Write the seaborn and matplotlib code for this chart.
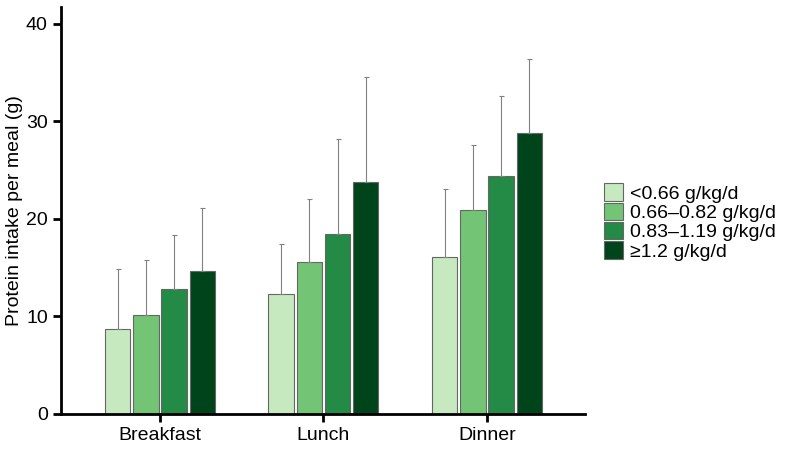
import matplotlib
matplotlib.use("Agg")
import matplotlib.pyplot as plt
import numpy as np
import pandas as pd
import seaborn as sns

meals = ["Breakfast", "Lunch", "Dinner"]
groups = ["<0.66 g/kg/d", "0.66–0.82 g/kg/d", "0.83–1.19 g/kg/d", "≥1.2 g/kg/d"]
# mean protein intake per meal (g), rows = meals, cols = groups
means = [
    [8.7, 10.1, 12.8, 14.6],
    [12.3, 15.6, 18.4, 23.8],
    [16.1, 20.9, 24.4, 28.8],
]
# upper end of error bars (mean + SD)
upper = [
    [14.9, 15.8, 18.3, 21.1],
    [17.4, 22.0, 28.2, 34.5],
    [23.1, 27.6, 32.6, 36.4],
]
colors = ["#c7e9c0", "#74c476", "#238b45", "#00441b"]

sns.set_style("ticks")
plt.rcParams["font.family"] = ["Liberation Sans", "DejaVu Sans"]
plt.rcParams["text.color"] = "black"
plt.rcParams["axes.labelcolor"] = "black"
plt.rcParams["xtick.color"] = "black"
plt.rcParams["ytick.color"] = "black"
plt.rcParams["axes.edgecolor"] = "black"

rows = []
for i, m in enumerate(meals):
    for j, g in enumerate(groups):
        rows.append({"meal": m, "group": g, "value": means[i][j],
                     "err": upper[i][j] - means[i][j]})
df = pd.DataFrame(rows)

fig = plt.figure(figsize=(7.87, 4.72), dpi=100)
ax = fig.add_axes([0.0775, 0.123, 0.666, 0.862])

sns.barplot(data=df, x="meal", y="value", hue="group", hue_order=groups,
            palette=colors, saturation=1, width=0.69, gap=0.1, errorbar=None,
            edgecolor="#666666", linewidth=0.8, ax=ax)

# error bars on top of each bar, read from the drawn patches
bars = [p for p in ax.patches if p.get_height() > 0]
for p in bars:
    x = p.get_x() + p.get_width() / 2
    h = p.get_height()
    e = df.loc[np.isclose(df["value"], h), "err"].iloc[0]
    ax.errorbar(x, h, yerr=[[0], [e]], fmt="none", ecolor="#808080",
                elinewidth=0.8, capsize=1.8, capthick=0.8, zorder=1)

ax.set_ylim(0, 41.7)
ax.set_xlim(-0.605, 2.6)
ax.set_yticks([0, 10, 20, 30, 40])
ax.set_xlabel("")
ax.set_ylabel("Protein intake per meal (g)", fontsize=14, labelpad=2)
ax.tick_params(axis="both", labelsize=14, width=2, length=6, color="black")
for s in ["left", "bottom"]:
    ax.spines[s].set_linewidth(2)
sns.despine(ax=ax)

ax.legend(loc="center left", bbox_to_anchor=(1.036, 0.472), frameon=False,
          fontsize=14, handlelength=1.0, handleheight=1.0, handletextpad=0.35,
          labelspacing=0.0, borderaxespad=0, borderpad=0)

fig.savefig("out.png", dpi=100)
